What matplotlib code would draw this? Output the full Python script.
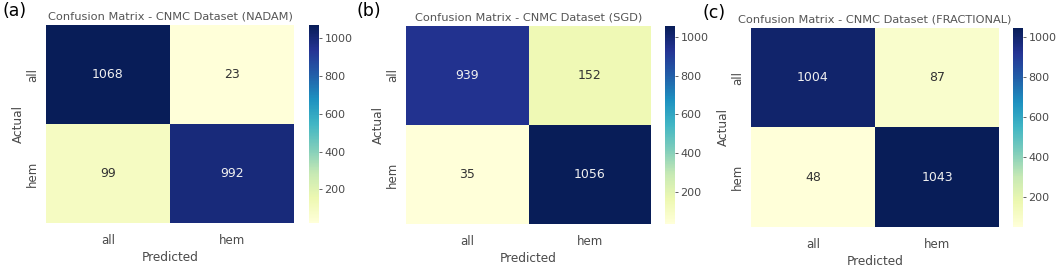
import numpy as np
import matplotlib.pyplot as plt
import seaborn as sns

labels = ["all", "hem"]
titles = ["Confusion Matrix - CNMC Dataset (NADAM)",
          "Confusion Matrix - CNMC Dataset (SGD)",
          "Confusion Matrix - CNMC Dataset (FRACTIONAL)"]
panel_tags = ["(a)", "(b)", "(c)"]
cm_nadam = [[1068, 23], [99, 992]]
cm_sgd = [[939, 152], [35, 1056]]
cm_frac = [[1004, 87], [48, 1043]]
matrices = [cm_nadam, cm_sgd, cm_frac]

W, H = 1059, 267
txt = "#4a4a4a"
plt.rcParams['font.family'] = ['DejaVu Sans']
plt.rcParams['text.color'] = txt
plt.rcParams['axes.labelcolor'] = txt
plt.rcParams['xtick.color'] = txt
plt.rcParams['ytick.color'] = txt

fig = plt.figure(figsize=(W / 100, H / 100), dpi=100)


def box(x0, y0, x1, y1):
    # pixel box (top-left origin) -> figure fraction
    return [x0 / W, (H - y1) / H, (x1 - x0) / W, (y1 - y0) / H]


heat_boxes = [(46, 25, 294, 223), (406, 26, 651, 224), (751, 28, 999, 227)]
cbar_boxes = [(309, 25, 319, 223), (665, 26, 675, 224), (1013, 28, 1023, 227)]
tag_pos = [(2, 2), (357, 2), (703, 4)]

for k in range(3):
    ax = fig.add_axes(box(*heat_boxes[k]))
    cax = fig.add_axes(box(*cbar_boxes[k]))
    data = np.array(matrices[k])
    sns.heatmap(data, annot=True, fmt="d", cmap="YlGnBu", ax=ax, cbar_ax=cax,
                xticklabels=labels, yticklabels=labels,
                annot_kws={"fontsize": 9})
    ax.set_title(titles[k], fontsize=8.2, color="#555555", pad=4)
    ax.set_xlabel("Predicted", fontsize=8.7, labelpad=3)
    ax.set_ylabel("Actual", fontsize=8.7, labelpad=1)
    ax.tick_params(labelsize=8.5, length=0, pad=8)
    ax.tick_params(axis='y', pad=5)
    cax.tick_params(labelsize=8, length=2.5, width=0.6, pad=1.5)
    cax.set_yticks([200, 400, 600, 800, 1000])
    for t in ax.texts:
        t.set_color("#f0f0f0" if float(t.get_text()) > 500 else "#333333")
    fig.text(tag_pos[k][0] / W, 1 - tag_pos[k][1] / H, panel_tags[k],
             fontsize=12.5, color="black", va="top", ha="left")

fig.savefig("out.png", dpi=100, facecolor="white")
